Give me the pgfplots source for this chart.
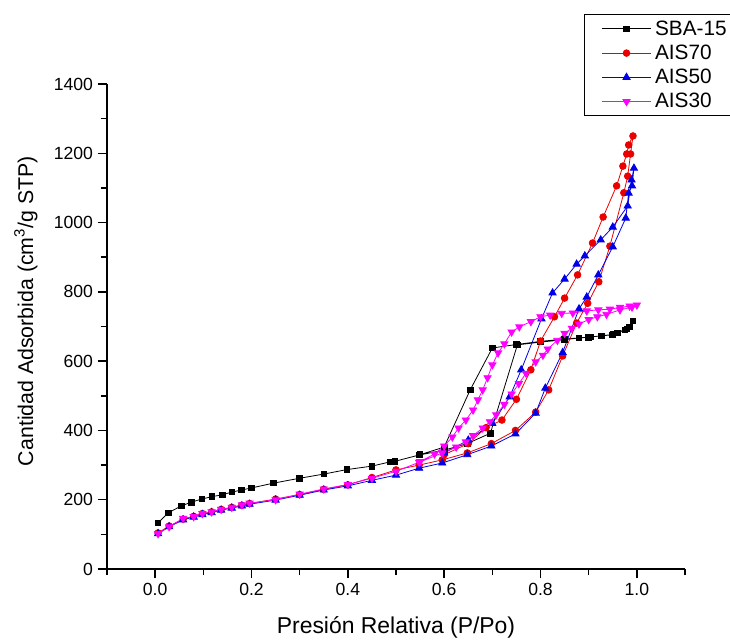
\documentclass[border=0pt]{standalone}
\usepackage{fontspec}
\setmainfont{Liberation Sans}
\usepackage{pgfplots}
\pgfplotsset{compat=1.18}
\definecolor{cmag}{RGB}{255,0,255}
\definecolor{cblue}{RGB}{0,0,230}
\definecolor{cred}{RGB}{235,0,0}
\begin{document}
\begin{tikzpicture}
\path[use as bounding box] (-80.25pt,-52.5pt) rectangle (467.25pt,426.75pt);
\begin{axis}[
  scale only axis, width=433.5pt, height=363.75pt,
  xmin=-0.1, xmax=1.1, ymin=0, ymax=1400,
  axis x line*=bottom, axis y line*=left,
  axis line style={line width=1.2pt},
  tick align=outside, tick style={line width=1.1pt, black},
  major tick length=7pt, minor tick length=4.5pt,
  xtick={0,0.2,0.4,0.6,0.8,1.0},
  minor xtick={-0.1,0.1,0.3,0.5,0.7,0.9,1.1},
  ytick={0,200,400,600,800,1000,1200,1400},
  minor ytick={100,300,500,700,900,1100,1300},
  xticklabel style={/pgf/number format/.cd, fixed, fixed zerofill, precision=1},
  yticklabel style={/pgf/number format/1000 sep={}},
  /pgf/number format/assume math mode=true,
  tick label style={font=\fontsize{13.2}{13.2}\selectfont},
  xlabel={Presión Relativa (P/Po)},
  ylabel={Cantidad Adsorbida (cm\textsuperscript{3}/g STP)},
  xlabel style={font=\fontsize{17.2}{17.2}\selectfont, at={(axis description cs:0.5,0)}, anchor=base, yshift=-48.5pt},
  ylabel style={font=\fontsize{16}{16}\selectfont, at={(axis description cs:-0.128,0.532)}, anchor=base},
  legend style={at={(axis description cs:0.825,1.144)}, anchor=north west,
    draw=black, line width=0.6pt, font=\fontsize{15.6}{15.6}\selectfont,
    row sep=1.8pt, inner xsep=7pt, inner ysep=2.5pt},
  legend cell align=left,
  legend image code/.code={\path (-6pt,0pt) (37.5pt,0pt); \draw[mark repeat=2,mark phase=2] plot coordinates {(0pt,0pt) (18.4pt,0pt) (36.75pt,0pt)};},
  every axis plot/.append style={line width=0.6pt},
]
\addplot[black, mark=square*, mark size=2.1pt] coordinates {
(0.006,133) (0.027,162) (0.054,182) (0.075,193) (0.097,202) (0.118,209)
(0.139,214) (0.159,222) (0.179,228) (0.200,234) (0.246,248) (0.300,262)
(0.350,274) (0.398,287) (0.450,297) (0.487,309) (0.498,311) (0.548,329)
(0.600,343) (0.648,362) (0.696,392) (0.752,647) (0.800,655) (0.850,662)
(0.880,667) (0.905,670) (0.927,673) (0.948,676) (0.960,682) (0.975,690)
(0.985,699) (0.992,716)
(0.979,693) (0.950,677) (0.900,669) (0.850,664) (0.800,657) (0.750,648)
(0.700,638) (0.654,517) (0.600,352) (0.550,330)
};
\addlegendentry{SBA-15}
\addplot[cred, mark=*, mark size=2.5pt] coordinates {
(0.006,104) (0.029,124) (0.058,144) (0.080,152) (0.098,160) (0.117,165)
(0.137,172) (0.159,178) (0.180,184) (0.196,189) (0.250,202) (0.300,215)
(0.350,230) (0.400,243) (0.450,264) (0.500,286) (0.548,300) (0.596,315)
(0.648,335) (0.698,362) (0.748,400) (0.790,453) (0.817,517) (0.846,615)
(0.875,710) (0.898,767) (0.921,829) (0.944,932) (0.973,1086) (0.981,1134)
(0.987,1198) (0.992,1250)
(0.983,1224) (0.979,1198) (0.971,1163) (0.958,1106) (0.930,1016) (0.908,941)
(0.877,849) (0.850,782) (0.829,728) (0.800,658) (0.780,575) (0.750,490)
(0.720,430) (0.687,408) (0.650,362) (0.600,330)
};
\addlegendentry{AIS70}
\addplot[cblue, mark=triangle*, mark size=3.1pt] coordinates {
(0.006,102) (0.029,122) (0.058,142) (0.080,150) (0.098,157) (0.117,163)
(0.137,170) (0.159,176) (0.180,182) (0.196,187) (0.250,199) (0.300,213)
(0.350,228) (0.400,240) (0.450,256) (0.500,271) (0.548,291) (0.596,306)
(0.648,330) (0.698,355) (0.748,390) (0.790,450) (0.810,522) (0.846,625)
(0.880,751) (0.896,785) (0.920,849) (0.950,930) (0.977,1013) (0.983,1085)
(0.990,1106) (0.994,1157)
(0.989,1123) (0.981,1048) (0.950,987) (0.925,950) (0.892,904) (0.875,880)
(0.850,837) (0.825,797) (0.802,722) (0.760,575) (0.736,497) (0.700,420)
(0.650,372) (0.600,335)
};
\addlegendentry{AIS50}
\addplot[cmag, mark=triangle*, mark size=3.1pt, mark options={rotate=180}] coordinates {
(0.006,102) (0.029,122) (0.058,146) (0.080,151) (0.098,160) (0.117,165)
(0.137,172) (0.159,178) (0.180,185) (0.196,190) (0.250,200) (0.300,216)
(0.350,231) (0.400,244) (0.450,262) (0.500,282) (0.548,308) (0.596,335)
(0.625,352) (0.645,367) (0.660,385) (0.680,407) (0.695,425) (0.708,445)
(0.725,475) (0.740,505) (0.755,535) (0.770,565) (0.790,598) (0.805,617)
(0.815,635) (0.835,660) (0.850,680) (0.865,695) (0.880,707) (0.900,720)
(0.918,728) (0.937,735) (0.965,748) (0.990,756) (1.000,762)
(0.985,759) (0.965,755) (0.944,750) (0.920,748) (0.896,745) (0.867,739)
(0.844,738) (0.820,733) (0.800,728) (0.780,714) (0.756,699) (0.740,684)
(0.725,650) (0.712,624) (0.700,589) (0.690,552) (0.680,517) (0.670,488)
(0.660,459) (0.645,430) (0.630,407) (0.617,381) (0.600,355) (0.580,332)
(0.550,310)
};
\addlegendentry{AIS30}
\end{axis}
\end{tikzpicture}
\end{document}
